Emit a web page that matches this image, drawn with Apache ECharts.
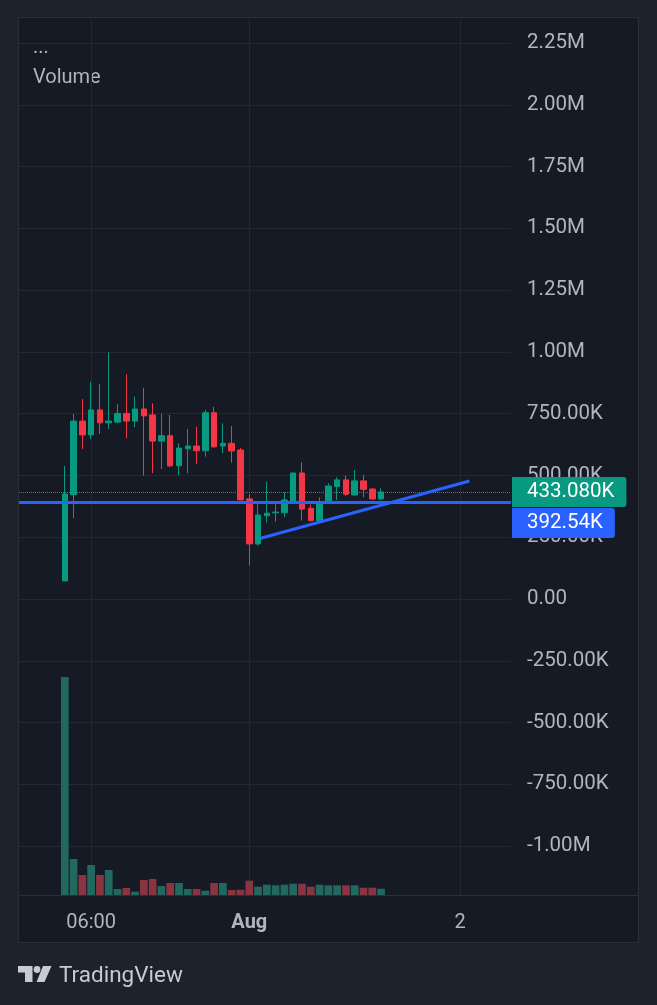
<!DOCTYPE html>
<html><head><meta charset="utf-8">
<script src="https://cdn.jsdelivr.net/npm/echarts@6/dist/echarts.min.js"></script>
<style>html,body{margin:0;padding:0;background:#1e222d;}#c{width:657px;height:1005px;}</style>
</head><body><div id="c"></div>
<script>
// hours relative to Aug 1 00:00 (hourly candles)
const hours  = [-21,-20,-19,-18,-17,-16,-15,-14,-13,-12,-11,-10,-9,-8,-7,-6,-5,-4,-3,-2,-1,0,1,2,3,4,5,6,7,8,9,10,11,12,13,14,15];
const opens  = [73000,422000,720000,664000,765000,713000,716000,751000,720000,769000,745000,639000,661000,539000,608000,619000,600000,754000,619000,630000,603000,405000,223000,337000,349000,349000,394000,510000,367000,316000,394000,455000,482000,421000,478000,445000,405000];
const closes = [425000,720000,664000,765000,713000,720000,751000,720000,769000,741000,639000,661000,539000,611000,619000,600000,754000,616000,630000,599000,401000,223000,340000,347000,352000,401000,510000,364000,317000,394000,457000,482000,424000,478000,444000,405000,433080];
const lows   = [73000,327000,607000,647000,668000,688000,711000,650000,695000,499000,509000,526000,533000,502000,509000,546000,576000,612000,590000,552000,401000,135000,216000,309000,313000,331000,394000,317000,313000,313000,391000,401000,418000,418000,412000,401000,401000];
const highs  = [538000,749000,809000,879000,870000,998000,789000,909000,819000,855000,792000,751000,745000,630000,688000,697000,765000,778000,711000,700000,612000,424000,384000,475000,384000,432000,510000,553000,383000,412000,468000,493000,499000,522000,502000,450000,448000];
const volumes = [218,36,20,30,20,25,6,7,3.3,15,16,9,12,12,6,6,4.3,12,12,5,5.3,14.3,8.3,10.3,9.7,10.3,11.3,11.3,8.3,10.3,9.7,9.7,9.7,9.7,7.3,7.3,6.3];
const priceTicks = [-1000000,-750000,-500000,-250000,0,250000,500000,750000,1000000,1250000,1500000,1750000,2000000,2250000];
const timeTickHours = [-18,0,24];
const timeTickLabels = ['06:00','Aug','2'];
const hLineValue = 392540;
const trendX = [1.3,25.06];
const trendY = [245600,477500];
const lastClose = closes[closes.length-1];

const UP='#089981', DOWN='#f23645', VUP='#21695f', VDOWN='#883441';
const TXT='#b2b5be', GRID='#242833', FONT='Roboto';

function fmtPrice(v){
  const a=Math.abs(v);
  if(a>=1e6) return (v/1e6).toFixed(2)+'M';
  if(a>=1e3) return (v/1e3).toFixed(2)+'K';
  return v.toFixed(2);
}

const chart = echarts.init(document.getElementById('c'));
chart.setOption({
  animation:false,
  backgroundColor:'#1e222d',
  textStyle:{fontFamily:FONT},
  graphic:{elements:[
    {type:'rect',z:-10,shape:{x:18.5,y:17.5,width:620,height:925},style:{fill:'#161a25',stroke:'#2a2e39',lineWidth:1}},
    {type:'line',z:10,shape:{x1:18.5,y1:895.5,x2:638.5,y2:895.5},style:{stroke:'#2a2e39',lineWidth:1}},
    {type:'text',x:33,y:48,style:{text:'...',fill:TXT,fontSize:20,fontFamily:FONT,verticalAlign:'middle'}},
    {type:'text',x:33,y:78,style:{text:'Volume',fill:TXT,fontSize:20,fontFamily:FONT,verticalAlign:'middle'}},
    {type:'polygon',shape:{points:[[18,966],[32.5,966],[32.5,982],[25,982],[25,972.5],[18,972.5]]},style:{fill:'#c8cbd2'}},
    {type:'circle',shape:{cx:37,cy:969.5,r:3.4},style:{fill:'#c8cbd2'}},
    {type:'polygon',shape:{points:[[43,966],[51.5,966],[44.5,982],[36.5,982]]},style:{fill:'#c8cbd2'}},
    {type:'text',x:59,y:976,style:{text:'TradingView',fill:'#c8cbd2',fontSize:22.5,fontFamily:FONT,verticalAlign:'middle'}}
  ]},
  grid:{left:19,top:19,width:492,height:876,containLabel:false},
  xAxis:{
    type:'value',min:-26.21,max:29.79,
    axisLine:{show:false},
    axisTick:{show:false,customValues:timeTickHours},
    axisLabel:{customValues:timeTickHours,margin:18,color:TXT,fontSize:20,fontFamily:FONT,
      formatter:function(v){const i=timeTickHours.indexOf(v);const s=i>=0?timeTickLabels[i]:'';return s==='Aug'?'{b|'+s+'}':s;},
      rich:{b:{fontWeight:'bold',fontSize:20,color:TXT,fontFamily:FONT}}},
    splitLine:{show:true,lineStyle:{color:GRID,width:1}}
  },
  yAxis:[{
    type:'value',position:'right',min:-1197900,max:2347200,
    axisLine:{show:false},
    axisTick:{show:false,customValues:priceTicks},
    axisLabel:{customValues:priceTicks,margin:16,color:TXT,fontSize:20.5,fontFamily:FONT,align:'left',padding:[4,0,0,0],formatter:fmtPrice},
    splitLine:{show:true,lineStyle:{color:GRID,width:1}}
  },{
    type:'value',min:0,max:876,show:false,splitLine:{show:false}
  }],
  series:[
    {
      type:'bar',xAxisIndex:0,yAxisIndex:1,barWidth:7.7,silent:true,z:1,
      data:hours.map((h,i)=>({value:[h,volumes[i]],itemStyle:{color:closes[i]>=opens[i]?VUP:VDOWN}}))
    },
    {
      type:'candlestick',xAxisIndex:0,yAxisIndex:0,barWidth:6,clip:false,silent:true,z:3,
      encode:{x:0,y:[1,2,3,4]},
      data:hours.map((h,i)=>[h,opens[i],closes[i],lows[i],highs[i]]),
      itemStyle:{color:UP,color0:DOWN,borderColor:UP,borderColor0:DOWN,borderWidth:1},
      markLine:{
        symbol:'none',silent:true,
        lineStyle:{color:'#2f8a7d',type:'dotted',width:1},
        data:[{yAxis:lastClose,label:{show:true,position:'end',distance:1,
          formatter:(lastClose/1000).toFixed(3)+'K',color:'#ffffff',fontSize:20.5,fontFamily:FONT,lineHeight:20,
          backgroundColor:UP,padding:[5,12,5,15],borderRadius:[0,3,3,0]}}]
      }
    },
    {
      type:'line',xAxisIndex:0,yAxisIndex:0,symbol:'none',silent:true,z:5,clip:false,
      lineStyle:{color:'#2962ff',width:3},
      data:trendX.map((x,i)=>[x,trendY[i]]),
      markLine:{
        symbol:'none',silent:true,
        lineStyle:{color:'#2962ff',type:'solid',width:3},
        data:[{yAxis:hLineValue,label:{show:true,position:'end',distance:1,offset:[0,21],
          formatter:(hLineValue/1000).toFixed(2)+'K',color:'#ffffff',fontSize:20.5,fontFamily:FONT,lineHeight:20,
          backgroundColor:'#2962ff',padding:[5,12,5,15],borderRadius:[0,3,3,0]}}]
      }
    }
  ]
});
</script>
</body></html>
